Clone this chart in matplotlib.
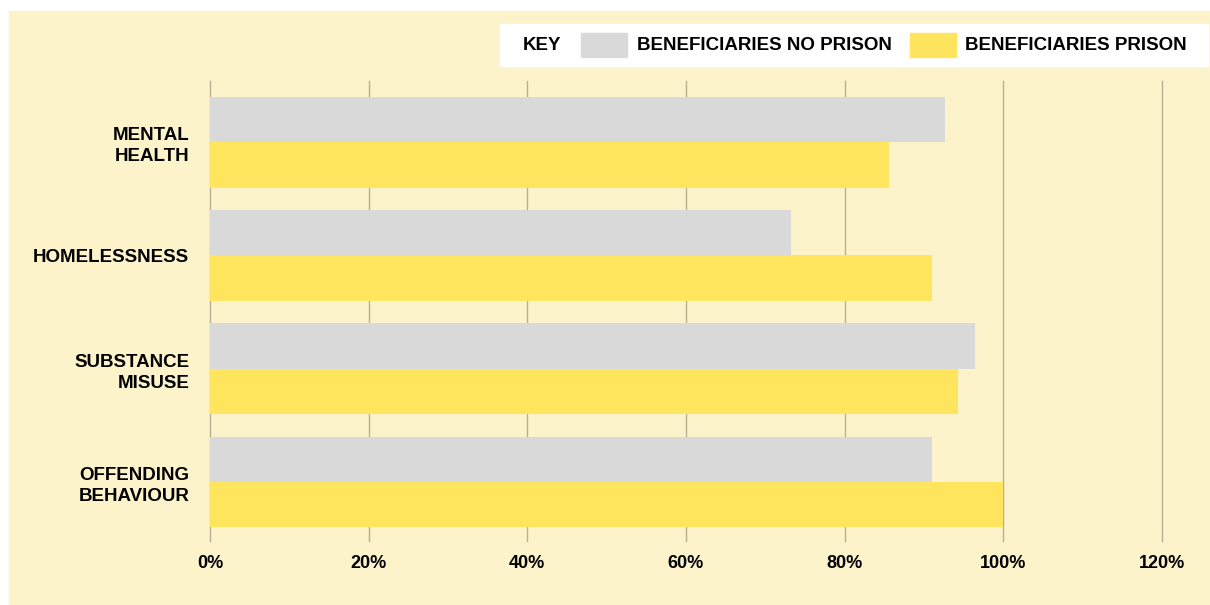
import numpy as np
import matplotlib
matplotlib.use('Agg')
import matplotlib.pyplot as plt
from matplotlib.patches import Rectangle

categories = ['MENTAL\nHEALTH', 'HOMELESSNESS', 'SUBSTANCE\nMISUSE', 'OFFENDING\nBEHAVIOUR']
no_prison = [92.6, 73.2, 96.4, 91.0]
prison = [85.6, 91.0, 94.3, 100.0]
xticks = [0, 20, 40, 60, 80, 100, 120]
series_names = ['BENEFICIARIES NO PRISON', 'BENEFICIARIES PRISON']

GREY = '#d9d9d9'
YELLOW = '#ffe45e'
PANEL = '#fdf3ca'
GRID = '#b8ae92'

plt.rcParams['font.family'] = ['Liberation Sans', 'DejaVu Sans']
plt.rcParams['font.weight'] = 'bold'

W, H = 1210, 605
fig = plt.figure(figsize=(W / 100, H / 100), dpi=100, facecolor='white')


def px(x, y):
    # pixel (from top-left) -> figure fraction
    return x / W, 1 - y / H


# yellow panel behind everything
fig.patches.append(Rectangle((9 / W, 0), 1 - 9 / W, 1 - 11 / H,
                             transform=fig.transFigure, color=PANEL, zorder=-2))

ax = fig.add_axes([210 / W, (H - 541) / H, 952 / W, 460 / H])
ax.set_facecolor('none')
ax.set_zorder(1)

y = np.arange(len(categories))
ax.barh(y - 0.2, no_prison, height=0.4, color=GREY, zorder=2)
ax.barh(y + 0.2, prison, height=0.4, color=YELLOW, zorder=2)

ax.set_xlim(0, 120)
ax.set_ylim(3.52, -0.54)
ax.set_xticks(xticks)
ax.set_xticklabels([f'{t}%' for t in xticks], fontsize=13, fontweight='bold')
ax.set_yticks(y)
ax.set_yticklabels(categories, fontsize=13.5, fontweight='bold', linespacing=1.3)
ax.tick_params(axis='x', length=0, pad=10)
ax.tick_params(axis='y', length=0, pad=15)
ax.grid(axis='x', color=GRID, lw=1, zorder=1)
for gl in ax.get_xgridlines():
    gl.set_clip_on(False)
ax.set_axisbelow(True)
for s in ax.spines.values():
    s.set_visible(False)

# key box
x0, y0 = px(500, 66)
x1, y1 = px(1208, 24)
fig.patches.append(Rectangle((x0, y0), x1 - x0, y1 - y0,
                             transform=fig.transFigure, color='white', zorder=-1))
fig.text(*px(523, 45), 'KEY', fontsize=13.5, fontweight='bold', va='center', ha='left')
for (sx, tx), col, name in zip([(581, 637), (910, 965)], [GREY, YELLOW], series_names):
    a, b = px(sx, 57)
    c, d = px(sx + 46, 33)
    fig.patches.append(Rectangle((a, b), c - a, d - b, transform=fig.transFigure,
                                 color=col, zorder=-1))
    fig.text(*px(tx, 45), name, fontsize=13.5, fontweight='bold', va='center', ha='left')

fig.savefig('out.png', dpi=100, facecolor='white')
